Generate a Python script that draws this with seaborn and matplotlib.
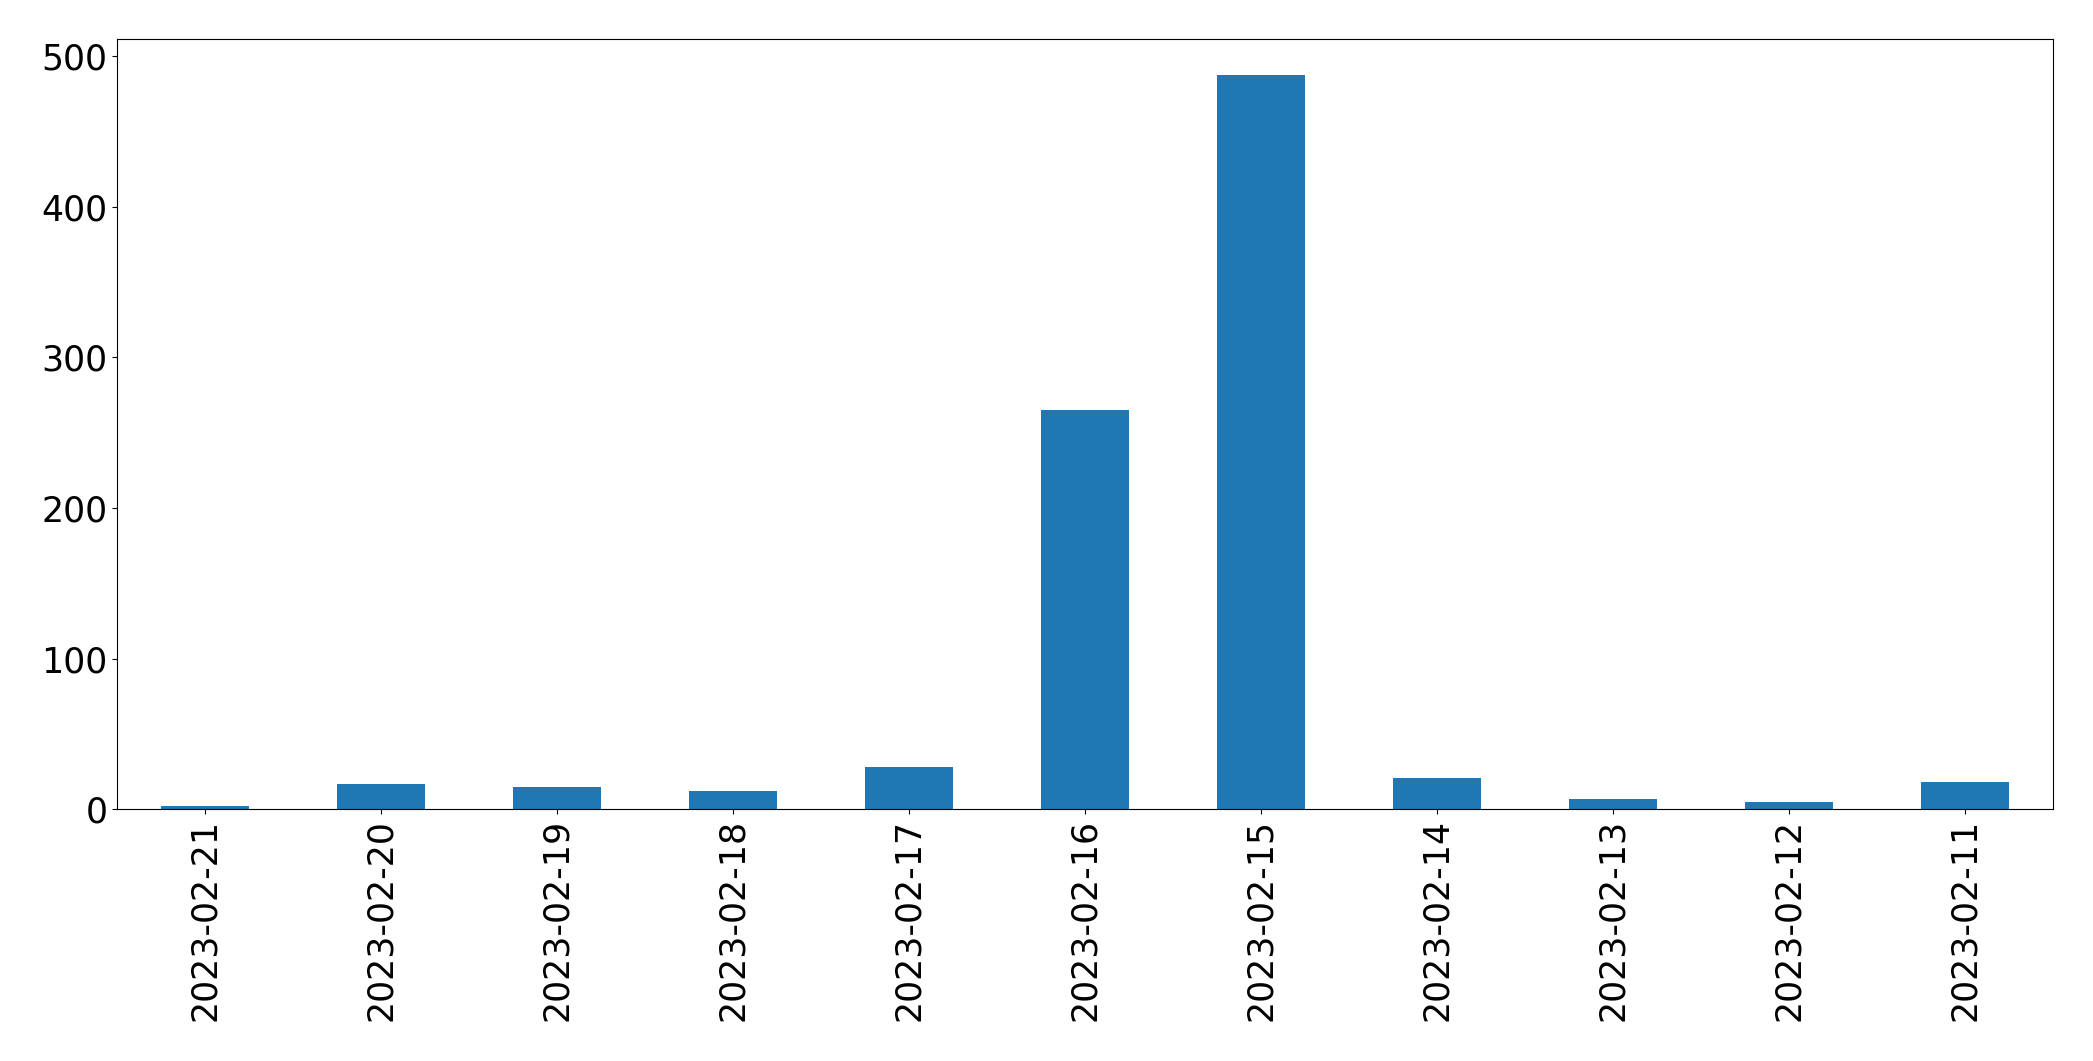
import matplotlib
matplotlib.use("Agg")
import matplotlib.pyplot as plt
import seaborn as sns

# daily counts, newest first (as in the original chart)
dates = ["2023-02-21", "2023-02-20", "2023-02-19", "2023-02-18", "2023-02-17",
         "2023-02-16", "2023-02-15", "2023-02-14", "2023-02-13", "2023-02-12",
         "2023-02-11"]
counts = [2, 17, 15, 12, 28, 265, 487, 21, 7, 5, 18]

plt.rcParams['font.family'] = ['DejaVu Sans']
plt.rcParams['font.size'] = 25

fig = plt.figure(figsize=(20.93, 10.61), dpi=100)
ax = fig.add_axes([0.0559, 0.2372, 0.925, 0.7263])
sns.barplot(x=dates, y=counts, order=dates, color="#1f77b4", saturation=1,
            width=0.5, ax=ax)
ax.set_xlim(-0.5, len(dates) - 0.5)
ax.set_ylim(0, max(counts) * 1.05)
ax.set_yticks([0, 100, 200, 300, 400, 500])
ax.tick_params(axis='x', labelrotation=90, labelsize=25)
ax.tick_params(axis='y', labelsize=25)
ax.set_xlabel("")
ax.set_ylabel("")
fig.savefig("out.png", dpi=100)
